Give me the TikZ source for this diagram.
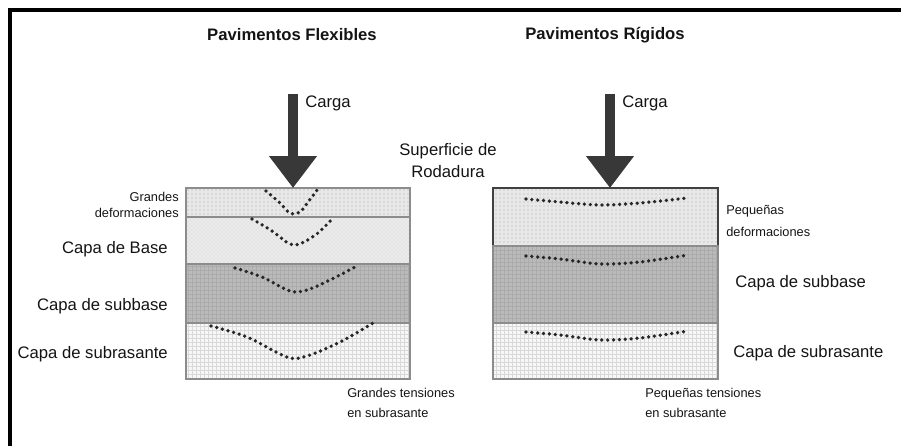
\documentclass[tikz,border=0pt]{standalone}
\usepackage{fontspec}
\setmainfont{Liberation Sans}
\usetikzlibrary{arrows.meta, patterns}
\def\surfL{(186,188) rectangle (410,217)}
\def\baseL{(186,217) rectangle (410,264)}
\def\subbaseL{(186,264) rectangle (410,323)}
\def\subrasL{(186,323) rectangle (410,379)}
\def\losaR{(493,188) rectangle (718,246)}
\def\subbaseR{(493,246) rectangle (718,323)}
\def\subrasR{(493,323) rectangle (718,379)}
\tikzset{
	capa/.style={draw=black!45, line width=1.1pt},
	rodadura/.style={capa, preaction={fill=black!9}, pattern=dots, pattern color=black!35},
	basecapa/.style={capa, preaction={fill=black!8}, pattern=crosshatch dots, pattern color=black!18},
	subbasecapa/.style={capa, preaction={fill=black!27}, pattern=grid, pattern color=black!33},
	subrascapa/.style={capa, preaction={fill=black!3}, pattern=grid, pattern color=black!15},
	deform/.style={line width=2.8pt, line cap=round, dash pattern=on 0pt off 4.4pt, black!85},
	carga/.style={line width=7.5pt, black!78, -{Triangle[width=34.5pt, length=24pt]}},
	grande/.style={font=\fontsize{12.5}{16.5}\selectfont, text=black!92, inner sep=0pt},
	chico/.style={font=\fontsize{9.6}{11.6}\selectfont, text=black!92, inner sep=0pt},
	titulo/.style={font=\bfseries\fontsize{12.5}{15}\selectfont, text=black!92, inner sep=0pt}
}

\begin{document}
\begin{tikzpicture}[x=0.75pt, y=-0.75pt]
	\useasboundingbox (0,0) rectangle (901,446);
	\draw[line width=3pt] (10,446) -- (10,10) -- (901,10);

	% pavimento flexible
	\draw[rodadura] \surfL;
	\draw[basecapa] \baseL;
	\draw[subbasecapa] \subbaseL;
	\draw[subrascapa] \subrasL;
	\draw[deform] plot[smooth, tension=0.55] coordinates {(266,191) (280,203) (290,213) (300,212) (308,202) (318,189)};
	\draw[deform] plot[smooth, tension=0.55] coordinates {(252,219) (272,231) (290,244) (302,243) (318,233) (333,218)};
	\draw[deform] plot[smooth, tension=0.55] coordinates {(235,268) (262,277) (290,291) (307,290) (332,279) (357,266)};
	\draw[deform] plot[smooth, tension=0.55] coordinates {(211,326) (247,337) (287,357) (307,356) (342,341) (373,323)};

	% pavimento rigido
	\draw[rodadura, draw=black!75] \losaR;
	\draw[subbasecapa] \subbaseR;
	\draw[subrascapa] \subrasR;
	\draw[deform] plot[smooth] coordinates {(526,199) (560,202) (600,205) (640,203) (688,198)};
	\draw[deform] plot[smooth] coordinates {(526,256) (560,259) (600,264) (640,262) (688,255)};
	\draw[deform] plot[smooth] coordinates {(526,332) (560,335) (600,340) (640,338) (688,331)};

	% cargas
	\coordinate (cargaLtop) at (293,94);
	\coordinate (surfLtop) at (293,188);
	\coordinate (cargaRtop) at (610,94);
	\coordinate (losaRtop) at (610,188);
	\draw[carga] (cargaLtop) -- (surfLtop);
	\draw[carga] (cargaRtop) -- (losaRtop);

	% textos
	\node[titulo] (flexibles) at (292,35) {Pavimentos Flexibles};
	\node[titulo] (rigidos) at (605,35) {Pavimentos Rígidos};
	\node[grande, anchor=west] (cargaL) at (305,103) {Carga};
	\node[grande, anchor=west] (cargaR) at (622,103) {Carga};
	\node[grande, align=center] (superficie) at (448,161) {Superficie de\\Rodadura};
	\node[chico, anchor=east, align=right] (grandesdef) at (179,205) {Grandes\\deformaciones};
	\node[grande, anchor=east] (baseL) at (168,249) {Capa de Base};
	\node[grande, anchor=east] (subbaseL) at (168,306) {Capa de subbase};
	\node[grande, anchor=east] (subrasL) at (168,354) {Capa de subrasante};
	\node[chico, anchor=west, align=left, font=\fontsize{9.6}{15}\selectfont] (grandesten) at (347,403) {Grandes tensiones\\en subrasante};
	\node[chico, anchor=west, align=left, font=\fontsize{9.6}{16.5}\selectfont] (pequedef) at (726,221) {Pequeñas\\deformaciones};
	\node[grande, anchor=west] (subbaseR) at (735,283) {Capa de subbase};
	\node[grande, anchor=west] (subrasR) at (733,353) {Capa de subrasante};
	\node[chico, anchor=west, align=left, font=\fontsize{9.6}{15}\selectfont] (pequeten) at (645,403) {Pequeñas tensiones\\en subrasante};
\end{tikzpicture}
\end{document}
